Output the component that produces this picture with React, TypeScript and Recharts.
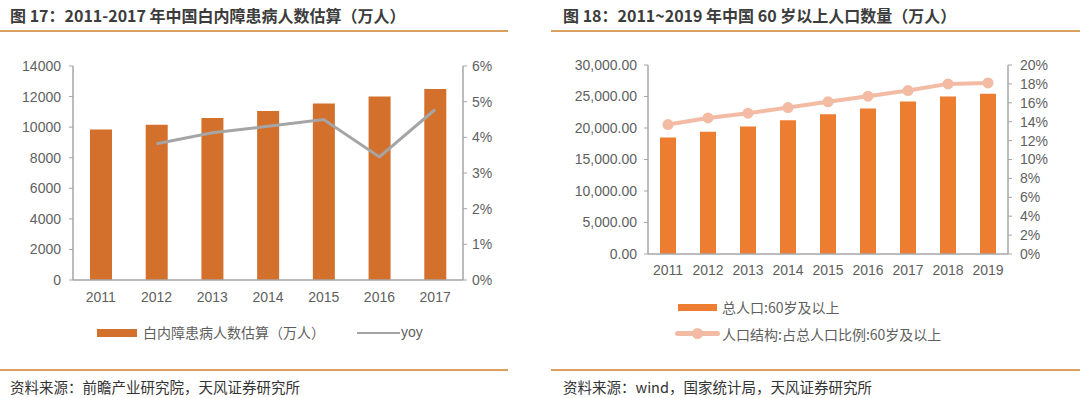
import React from 'react';
import { ComposedChart, Bar, Line, XAxis, YAxis, Legend } from 'recharts';

// ---- Left chart data ----
const yearsA = ['2011', '2012', '2013', '2014', '2015', '2016', '2017'];
const patients = [9850, 10150, 10600, 11050, 11550, 12000, 12500];
const yoy: (number | null)[] = [null, 3.82, 4.13, 4.31, 4.5, 3.45, 4.78];
const leftTicksA = [0, 2000, 4000, 6000, 8000, 10000, 12000, 14000];
const rightTicksA = [0, 1, 2, 3, 4, 5, 6];

// ---- Right chart data ----
const yearsB = ['2011', '2012', '2013', '2014', '2015', '2016', '2017', '2018', '2019'];
const elderly = [18500, 19400, 20250, 21250, 22200, 23100, 24200, 25000, 25450];
const ratio = [13.7, 14.4, 14.9, 15.5, 16.1, 16.7, 17.3, 18.0, 18.1];
const leftTicksB = [0, 5000, 10000, 15000, 20000, 25000, 30000];
const rightTicksB = [0, 2, 4, 6, 8, 10, 12, 14, 16, 18, 20];

const dataA = yearsA.map((y, i) => ({ year: y, patients: patients[i], yoy: yoy[i] }));
const dataB = yearsB.map((y, i) => ({ year: y, elderly: elderly[i], ratio: ratio[i] }));

const BAR_A = '#D2702C';
const BAR_B = '#ED7D31';
const LINE_A = '#A5A5A5';
const LINE_B = '#F3BBA3';
const AXIS = '#A6A6A6';
const TICK = '#5F5F5F';
const RULE = '#D9A062';
const NUM_FONT = '"Liberation Sans", "Noto Sans CJK SC", sans-serif';
const CJK_FONT = '"Noto Sans CJK SC", "Liberation Sans", sans-serif';

const tickStyle = { fontSize: 14, fill: TICK, fontFamily: NUM_FONT };

const fmtThousands = (v: number) =>
  v.toLocaleString('en-US', { minimumFractionDigits: 2, maximumFractionDigits: 2 });

const LegendA = () => (
  <div style={{ position: 'relative', height: 20, fontFamily: CJK_FONT, fontSize: 14, color: TICK }}>
    <div style={{ position: 'absolute', left: 0, top: 6, width: 40, height: 8, background: BAR_A }} />
    <div style={{ position: 'absolute', left: 46, top: -1, whiteSpace: 'nowrap', lineHeight: '20px' }}>白内障患病人数估算（万人）</div>
    <div style={{ position: 'absolute', left: 260, top: 9, width: 43, height: 2, background: LINE_A }} />
    <div style={{ position: 'absolute', left: 304, top: -1, whiteSpace: 'nowrap', lineHeight: '20px', fontFamily: NUM_FONT }}>yoy</div>
  </div>
);

const LegendB = () => (
  <div style={{ position: 'relative', height: 50, fontFamily: CJK_FONT, fontSize: 14, color: TICK }}>
    <div style={{ position: 'absolute', left: 3, top: 4, width: 39, height: 7, background: BAR_B }} />
    <div style={{ position: 'absolute', left: 47, top: -3, whiteSpace: 'nowrap', lineHeight: '20px' }}>总人口:60岁及以上</div>
    <div style={{ position: 'absolute', left: 0, top: 31, width: 45, height: 5, borderRadius: 3, background: LINE_B }} />
    <div style={{ position: 'absolute', left: 17, top: 28, width: 11, height: 11, borderRadius: 6, background: LINE_B }} />
    <div style={{ position: 'absolute', left: 47, top: 24, whiteSpace: 'nowrap', lineHeight: '20px' }}>人口结构:占总人口比例:60岁及以上</div>
  </div>
);

const textBase: React.CSSProperties = { position: 'absolute', whiteSpace: 'nowrap' };

export default function App() {
  return (
    <div style={{ position: 'absolute', left: 0, top: 0, width: 1080, height: 398, background: '#fff', overflow: 'hidden' }}>
      {/* Titles */}
      <div style={{ ...textBase, left: 10, top: 4, fontFamily: CJK_FONT, fontSize: 16, fontWeight: 700, color: '#3C3C3C', lineHeight: '22px' }}>
        图 17：2011-2017 年中国白内障患病人数估算（万人）
      </div>
      <div style={{ ...textBase, left: 563, top: 4, fontFamily: CJK_FONT, fontSize: 16, fontWeight: 700, color: '#3C3C3C', lineHeight: '22px' }}>
        图 18：2011~2019 年中国 60 岁以上人口数量（万人）
      </div>
      <div style={{ position: 'absolute', left: 0, top: 30, width: 508, height: 1.5, background: RULE }} />
      <div style={{ position: 'absolute', left: 551, top: 30, width: 529, height: 1.5, background: RULE }} />

      {/* Footer */}
      <div style={{ position: 'absolute', left: 0, top: 369, width: 508, height: 1.5, background: RULE }} />
      <div style={{ position: 'absolute', left: 551, top: 369, width: 529, height: 1.5, background: RULE }} />
      <div style={{ ...textBase, left: 10, top: 377, fontFamily: CJK_FONT, fontSize: 14.5, color: '#333', lineHeight: '20px' }}>
        资料来源：前瞻产业研究院，天风证券研究所
      </div>
      <div style={{ ...textBase, left: 563, top: 377, fontFamily: CJK_FONT, fontSize: 14.5, color: '#333', lineHeight: '20px' }}>
        资料来源：wind，国家统计局，天风证券研究所
      </div>

      {/* Left chart */}
      <div style={{ position: 'absolute', left: 0, top: 0 }}>
        <ComposedChart width={540} height={398} data={dataA} margin={{ top: 66, right: 27, bottom: 88, left: 13 }} style={{ fontFamily: NUM_FONT }}>
          <XAxis dataKey="year" height={30} tick={tickStyle} tickLine={false} tickSize={6} tickMargin={6} axisLine={{ stroke: AXIS, strokeWidth: 1.5 }} interval={0} />
          <YAxis yAxisId="left" width={60} domain={[0, 14000]} ticks={leftTicksA} tick={tickStyle} tickSize={4} tickMargin={8}
            axisLine={{ stroke: AXIS, strokeWidth: 1.5 }} tickLine={{ stroke: AXIS }} interval={0} />
          <YAxis yAxisId="right" orientation="right" width={50} domain={[0, 6]} ticks={rightTicksA} tickFormatter={(v: number) => `${v}%`}
            tick={tickStyle} tickSize={4} tickMargin={5} axisLine={{ stroke: AXIS, strokeWidth: 1.5 }} tickLine={{ stroke: AXIS }} interval={0} />
          <Bar yAxisId="left" dataKey="patients" name="白内障患病人数估算（万人）" fill={BAR_A} barSize={22} isAnimationActive={false} />
          <Line yAxisId="right" dataKey="yoy" name="yoy" stroke={LINE_A} strokeWidth={3} dot={false} activeDot={false} isAnimationActive={false} />
          <Legend layout="vertical" verticalAlign="middle" align="center" content={() => <LegendA />}
            wrapperStyle={{ left: 97, top: 323, width: 360 }} />
        </ComposedChart>
      </div>

      {/* Right chart */}
      <div style={{ position: 'absolute', left: 540, top: 0 }}>
        <ComposedChart width={540} height={398} data={dataB} margin={{ top: 65, right: 22, bottom: 119, left: 38 }} style={{ fontFamily: NUM_FONT }}>
          <XAxis dataKey="year" height={25} tick={tickStyle} tickLine={false} tickSize={5} tickMargin={6} axisLine={{ stroke: AXIS, strokeWidth: 1.5 }} interval={0} />
          <YAxis yAxisId="left" width={70} domain={[0, 30000]} ticks={leftTicksB} tickFormatter={fmtThousands} tick={tickStyle} tickSize={4} tickMargin={7}
            axisLine={{ stroke: AXIS, strokeWidth: 1.5 }} tickLine={{ stroke: AXIS }} interval={0} />
          <YAxis yAxisId="right" orientation="right" width={50} domain={[0, 20]} ticks={rightTicksB} tickFormatter={(v: number) => `${v}%`}
            tick={tickStyle} tickSize={4} tickMargin={8} axisLine={{ stroke: AXIS, strokeWidth: 1.5 }} tickLine={{ stroke: AXIS }} interval={0} />
          <Bar yAxisId="left" dataKey="elderly" name="总人口:60岁及以上" fill={BAR_B} barSize={16} isAnimationActive={false} />
          <Line yAxisId="right" dataKey="ratio" name="人口结构:占总人口比例:60岁及以上" stroke={LINE_B} strokeWidth={4}
            dot={{ r: 5.5, fill: LINE_B, stroke: LINE_B, strokeWidth: 0 }} activeDot={false} isAnimationActive={false} />
          <Legend layout="vertical" verticalAlign="middle" align="center" content={() => <LegendB />}
            wrapperStyle={{ left: 135, top: 300, width: 320 }} />
        </ComposedChart>
      </div>
    </div>
  );
}
